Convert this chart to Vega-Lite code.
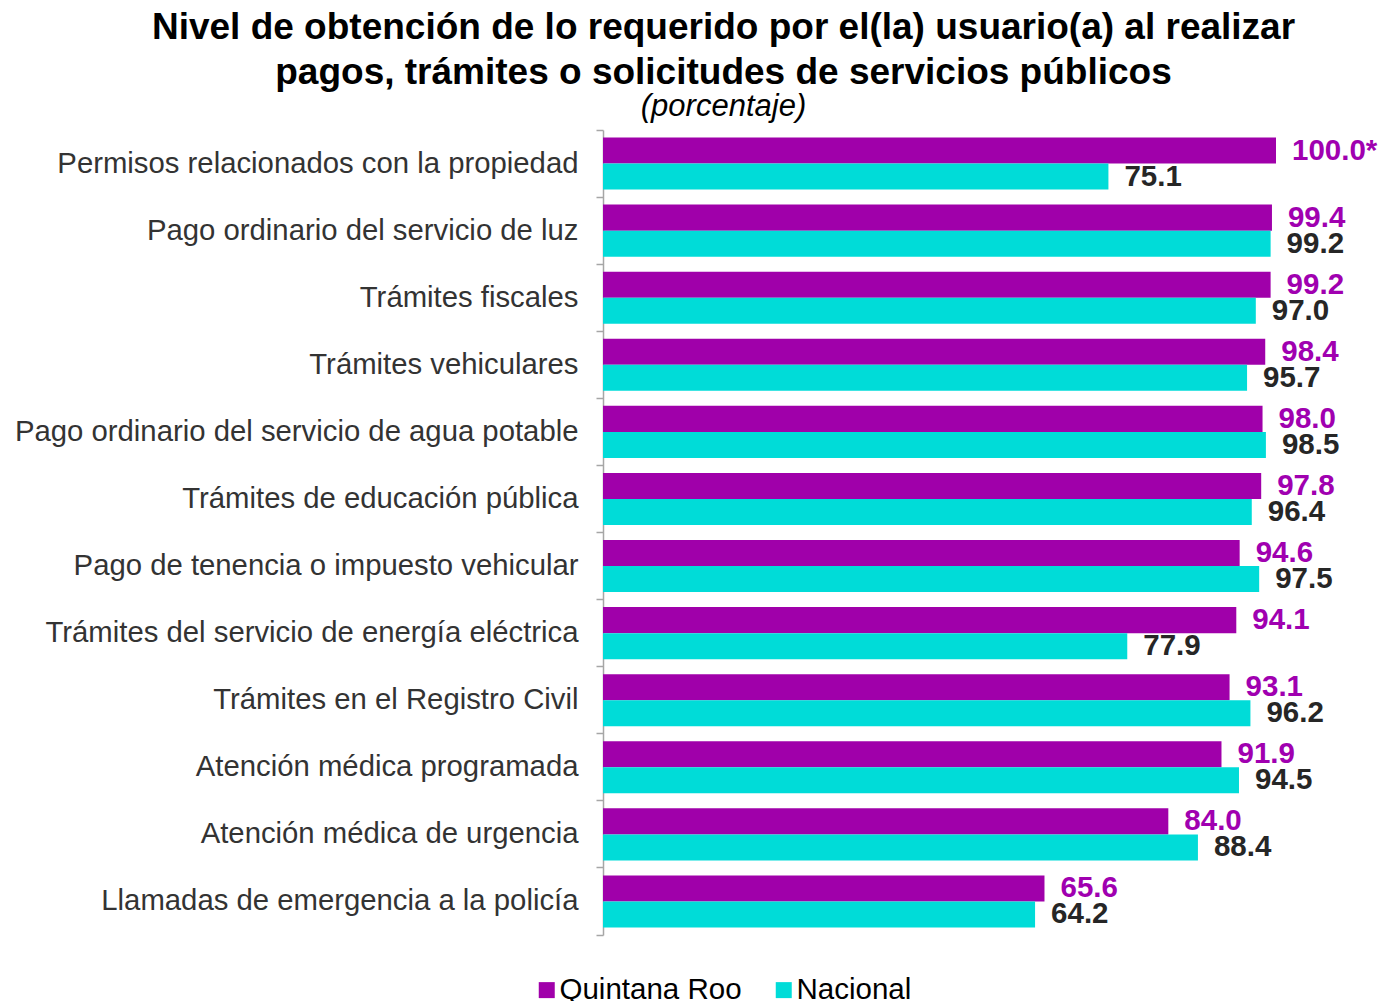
{
  "$schema": "https://vega.github.io/schema/vega-lite/v6.json",
  "autosize": {"type": "none"},
  "width": 673,
  "height": 805,
  "padding": {"left": 603, "top": 130, "right": 105, "bottom": 66},
  "background": "white",
  "config": {"font": "Liberation Sans", "view": {"stroke": null}},
  "title": {
    "text": ["Nivel de obtención de lo requerido por el(la) usuario(a) al realizar", "pagos, trámites o solicitudes de servicios públicos"],
    "subtitle": "(porcentaje)",
    "anchor": "middle",
    "frame": "group",
    "dx": -216,
    "fontSize": 37,
    "fontWeight": "bold",
    "color": "#000000",
    "lineHeight": 45,
    "subtitleFontSize": 31,
    "subtitleFontStyle": "italic",
    "subtitleColor": "#000000",
    "subtitlePadding": 0,
    "offset": -7
  },
  "data": {
    "values": [
      {"cat": "Permisos relacionados con la propiedad", "serie": "Quintana Roo", "valor": 100.0, "etiqueta": "100.0*"},
      {"cat": "Permisos relacionados con la propiedad", "serie": "Nacional", "valor": 75.1, "etiqueta": "75.1"},
      {"cat": "Pago ordinario del servicio de luz", "serie": "Quintana Roo", "valor": 99.4, "etiqueta": "99.4"},
      {"cat": "Pago ordinario del servicio de luz", "serie": "Nacional", "valor": 99.2, "etiqueta": "99.2"},
      {"cat": "Trámites fiscales", "serie": "Quintana Roo", "valor": 99.2, "etiqueta": "99.2"},
      {"cat": "Trámites fiscales", "serie": "Nacional", "valor": 97.0, "etiqueta": "97.0"},
      {"cat": "Trámites vehiculares", "serie": "Quintana Roo", "valor": 98.4, "etiqueta": "98.4"},
      {"cat": "Trámites vehiculares", "serie": "Nacional", "valor": 95.7, "etiqueta": "95.7"},
      {"cat": "Pago ordinario del servicio de agua potable", "serie": "Quintana Roo", "valor": 98.0, "etiqueta": "98.0"},
      {"cat": "Pago ordinario del servicio de agua potable", "serie": "Nacional", "valor": 98.5, "etiqueta": "98.5"},
      {"cat": "Trámites de educación pública", "serie": "Quintana Roo", "valor": 97.8, "etiqueta": "97.8"},
      {"cat": "Trámites de educación pública", "serie": "Nacional", "valor": 96.4, "etiqueta": "96.4"},
      {"cat": "Pago de tenencia o impuesto vehicular", "serie": "Quintana Roo", "valor": 94.6, "etiqueta": "94.6"},
      {"cat": "Pago de tenencia o impuesto vehicular", "serie": "Nacional", "valor": 97.5, "etiqueta": "97.5"},
      {"cat": "Trámites del servicio de energía eléctrica", "serie": "Quintana Roo", "valor": 94.1, "etiqueta": "94.1"},
      {"cat": "Trámites del servicio de energía eléctrica", "serie": "Nacional", "valor": 77.9, "etiqueta": "77.9"},
      {"cat": "Trámites en el Registro Civil", "serie": "Quintana Roo", "valor": 93.1, "etiqueta": "93.1"},
      {"cat": "Trámites en el Registro Civil", "serie": "Nacional", "valor": 96.2, "etiqueta": "96.2"},
      {"cat": "Atención médica programada", "serie": "Quintana Roo", "valor": 91.9, "etiqueta": "91.9"},
      {"cat": "Atención médica programada", "serie": "Nacional", "valor": 94.5, "etiqueta": "94.5"},
      {"cat": "Atención médica de urgencia", "serie": "Quintana Roo", "valor": 84.0, "etiqueta": "84.0"},
      {"cat": "Atención médica de urgencia", "serie": "Nacional", "valor": 88.4, "etiqueta": "88.4"},
      {"cat": "Llamadas de emergencia a la policía", "serie": "Quintana Roo", "valor": 65.6, "etiqueta": "65.6"},
      {"cat": "Llamadas de emergencia a la policía", "serie": "Nacional", "valor": 64.2, "etiqueta": "64.2"}
    ]
  },
  "encoding": {
    "y": {
      "field": "cat",
      "type": "nominal",
      "sort": null,
      "scale": {"paddingInner": 0, "paddingOuter": 0},
      "axis": {
        "title": null,
        "bandPosition": 1,
        "tickExtra": true,
        "labelFontSize": 29.3,
        "labelColor": "#333333",
        "labelLimit": 700,
        "labelPadding": 18,
        "tickSize": 7,
        "tickColor": "#a6a6a6",
        "domainColor": "#a6a6a6",
        "tickWidth": 1.5,
        "domainWidth": 1.5
      }
    },
    "yOffset": {
      "field": "serie",
      "type": "nominal",
      "sort": ["Quintana Roo", "Nacional"],
      "scale": {"paddingInner": 0, "paddingOuter": 0.29}
    },
    "x": {
      "field": "valor",
      "type": "quantitative",
      "scale": {"domain": [0, 100], "nice": false},
      "axis": null
    }
  },
  "layer": [
    {
      "mark": {"type": "bar"},
      "encoding": {
        "color": {
          "field": "serie",
          "type": "nominal",
          "sort": ["Quintana Roo", "Nacional"],
          "scale": {"domain": ["Quintana Roo", "Nacional"], "range": ["#a000aa", "#00dcd8"]},
          "legend": {
            "title": null,
            "orient": "none",
            "direction": "horizontal",
            "legendX": -71,
            "legendY": 845,
            "symbolType": "square",
            "symbolSize": 256,
            "symbolStrokeWidth": 0,
            "labelFontSize": 29.5,
            "labelColor": "#000000",
            "labelLimit": 400,
            "labelOffset": -2,
            "columnPadding": 27,
            "symbolOpacity": 1
          }
        }
      }
    },
    {
      "mark": {"type": "text", "align": "left", "baseline": "middle", "dx": 16, "fontSize": 29.5, "fontWeight": "bold"},
      "encoding": {
        "text": {"field": "etiqueta"},
        "color": {
          "condition": {"test": "datum.serie === 'Quintana Roo'", "value": "#a000b0"},
          "value": "#262626"
        }
      }
    }
  ]
}
